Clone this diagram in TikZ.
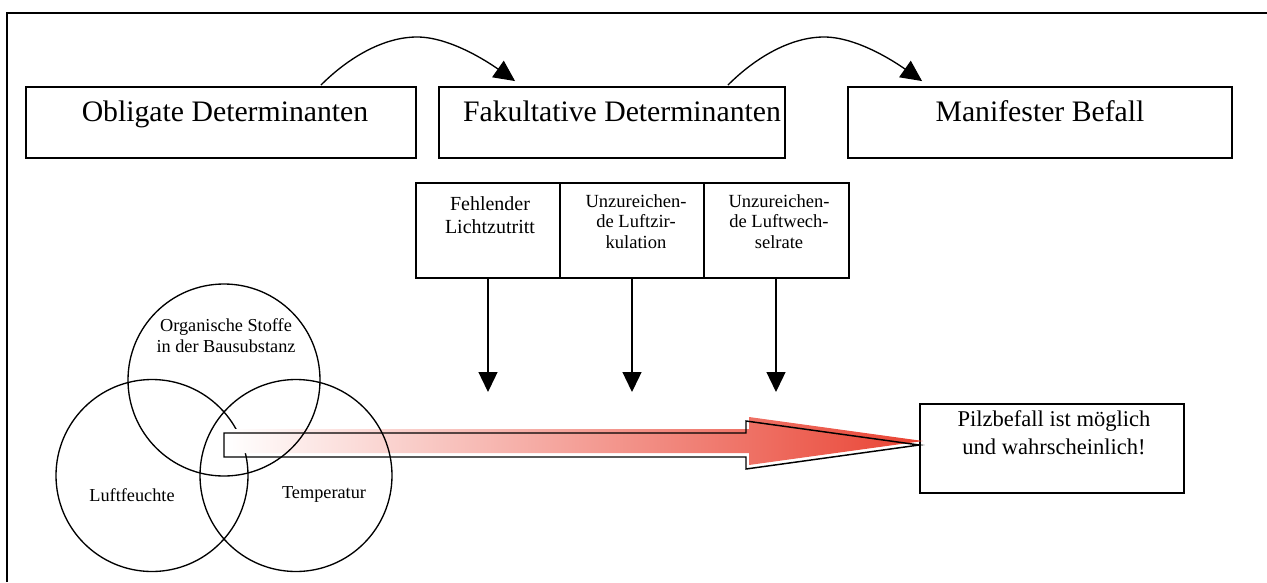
\documentclass[tikz,border=0pt]{standalone}
\usepackage{fontspec}
\setmainfont{Liberation Serif}
\usetikzlibrary{arrows.meta,calc}
\definecolor{arrowred}{RGB}{233,66,50}
\newcommand{\pxu}{0.75pt}
\begin{document}
\begin{tikzpicture}[x=0.75pt,y=-0.75pt,
  bigbox/.style={draw, line width=1.4pt, inner sep=0pt, minimum height=71*\pxu},
  smallbox/.style={draw, line width=1.1pt, inner sep=0pt, minimum height=95*\pxu},
  bigtxt/.style={font=\fontsize{22.3pt}{26pt}\selectfont, anchor=base, inner sep=0pt},
  fehltxt/.style={font=\fontsize{15pt}{17.25pt}\selectfont, align=center, anchor=north, inner sep=0pt},
  unztxt/.style={font=\fontsize{13.9pt}{15.5pt}\selectfont, align=center, anchor=north, inner sep=0pt},
  venntxt/.style={font=\fontsize{13.7pt}{16.3pt}\selectfont, align=center, inner sep=0pt},
  pilztxt/.style={font=\fontsize{16.9pt}{20.5pt}\selectfont, align=center, anchor=north, inner sep=0pt},
  venn/.style={circle, draw, line width=1pt, minimum size=192*\pxu, inner sep=0pt},
  flow/.style={line width=1pt, -{Triangle[length=15.75pt, width=15pt]}},
  downarrow/.style={line width=1pt, -{Triangle[length=15pt, width=14.25pt]}},
  outline/.style={line width=1.1pt, line join=miter}
]
\useasboundingbox (0,0) rectangle (1267,582);

% outer frame
\draw[line width=1.5pt] (7,582) -- (7,13) -- (1267,13);

% top boxes
\node[bigbox, minimum width=390*\pxu] (b1) at (221,122.5) {};
\node[bigbox, minimum width=346*\pxu] (b2) at (612,122.5) {};
\node[bigbox, minimum width=384*\pxu] (b3) at (1040,122.5) {};
\node[bigtxt] (b1t) at (225,121.7) {Obligate Determinanten};
\node[bigtxt] (b2t) at (622,121.7) {Fakultative Determinanten};
\node[bigtxt] (b3t) at (1040,121.7) {Manifester Befall};

% curved arrows
\coordinate (a1s) at ($(b1.north east)+(-96,-1)$);
\coordinate (a1e) at ($(b2.north west)+(77,-5)$);
\coordinate (a2s) at ($(b2.north east)+(-58,-1)$);
\coordinate (a2e) at ($(b3.north west)+(75,-5)$);
\draw[flow] (a1s) .. controls (350,56) and (385,37) .. (417,37)
  .. controls (450,37) and (488,62) .. (a1e);
\draw[flow] (a2s) .. controls (757,56) and (792,37) .. (824,37)
  .. controls (857,37) and (895,62) .. (a2e);

% small boxes
\node[smallbox, minimum width=144*\pxu] (s1) at (488,230.5) {};
\node[smallbox, minimum width=144*\pxu] (s2) at (632,230.5) {};
\node[smallbox, minimum width=145*\pxu] (s3) at (776.5,230.5) {};
\node[fehltxt] (s1t) at (490,196.3) {Fehlender\\Lichtzutritt};
\node[unztxt] (s2t) at (636,194) {Unzureichen-\\de Luftzir-\\kulation};
\node[unztxt] (s3t) at (779,194) {Unzureichen-\\de Luftwech-\\selrate};

\coordinate (d1) at (488,392);
\coordinate (d2) at (632,392);
\coordinate (d3) at (776,392);
\draw[downarrow] (s1.south) -- (d1);
\draw[downarrow] (s2.south) -- (d2);
\draw[downarrow] (s3.south -| d3) -- (d3);

% result box
\node[bigbox, minimum width=264*\pxu, minimum height=89*\pxu, line width=1.2pt] (pz) at (1052,448.5) {};
\node[pilztxt] (pzt) at (1054,410.6) {Pilzbefall ist möglich\\und wahrscheinlich!};

% venn: left circle below the arrow
\node[venn] (c2) at (152,475.5) {};

% red arrow
\shade[shading=axis, left color=white, right color=arrowred]
  (227,429) -- (749,429) -- (749,417) -- (923,441) -- (749,465) -- (749,453) -- (227,453) -- cycle;
\draw[outline] (224,433) -- (746,433) -- (746,421) -- (pz.west |- 0,445) -- (746,469) -- (746,457) -- (224,457) -- cycle;

% venn: other circles above the arrow
\node[venn] (c1) at (224,380) {};
\node[venn] (c3) at (296,475.5) {};

\node[venntxt, anchor=north] (c1t) at (226,318) {Organische Stoffe\\in der Bausubstanz};
\node[venntxt, anchor=base] (c2t) at (132,501.7) {Luftfeuchte};
\node[venntxt, anchor=base] (c3t) at (324,498) {Temperatur};
\end{tikzpicture}
\end{document}
